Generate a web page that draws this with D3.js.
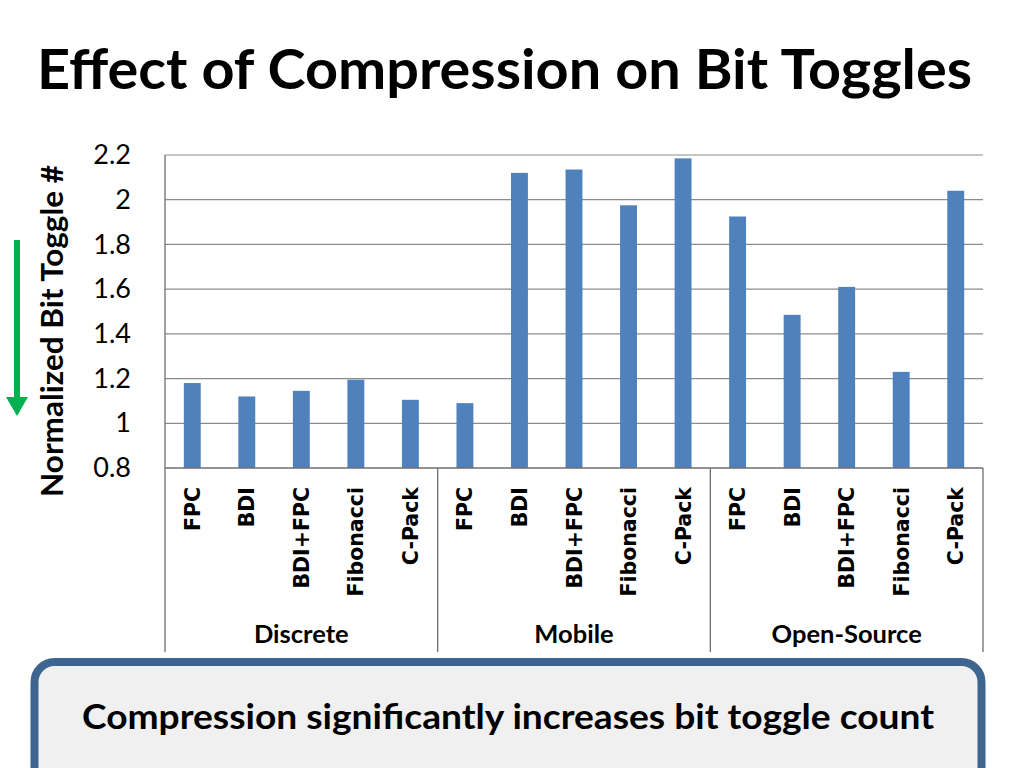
<!DOCTYPE html>
<html>
<head>
<meta charset="utf-8">
<script src="https://cdn.jsdelivr.net/npm/d3@7"></script>
<style>
  body { margin: 0; background: #fff; }
  text { font-family: Lato, "Open Sans", sans-serif; }
</style>
</head>
<body>
<svg width="1024" height="768"></svg>
<script>
// data
var groups = ["Discrete", "Mobile", "Open-Source"];
var schemes = ["FPC", "BDI", "BDI+FPC", "Fibonacci", "C-Pack"];
var discreteVals = [1.18, 1.12, 1.145, 1.195, 1.105];
var mobileVals = [1.09, 2.12, 2.135, 1.975, 2.185];
var openVals = [1.925, 1.485, 1.61, 1.23, 2.04];
var yTicks = [0.8, 1, 1.2, 1.4, 1.6, 1.8, 2, 2.2];

var allVals = [discreteVals, mobileVals, openVals];
var data = [];
groups.forEach(function(g, gi) {
  schemes.forEach(function(s, si) {
    data.push({ group: g, scheme: s, key: g + "|" + s, value: allVals[gi][si] });
  });
});

var plotLeft = 165, plotRight = 983, plotTop = 155, plotBottom = 468, frameBottom = 652;

var svg = d3.select("svg");

svg.append("text")
  .attr("x", 37).attr("y", 89)
  .attr("font-size", 56).attr("font-weight", "bold")
  .attr("textLength", 935).attr("lengthAdjust", "spacingAndGlyphs")
  .text("Effect of Compression on Bit Toggles");

var x = d3.scaleBand()
  .domain(data.map(function(d) { return d.key; }))
  .range([plotLeft, plotRight])
  .paddingInner(0.69).paddingOuter(0.345);

var xGroup = d3.scaleBand()
  .domain(groups)
  .range([plotLeft, plotRight]);

var y = d3.scaleLinear()
  .domain([0.8, 2.2])
  .range([plotBottom, plotTop]);

// grid
svg.append("g")
  .selectAll("line")
  .data(yTicks.slice(1))
  .enter()
  .append("line")
  .attr("x1", plotLeft).attr("x2", plotRight)
  .attr("y1", function(d) { return y(d); })
  .attr("y2", function(d) { return y(d); })
  .attr("stroke", "#8c8c8c").attr("stroke-width", 1.2);

// y tick labels
var yAxis = svg.append("g")
  .attr("transform", "translate(" + plotLeft + ",0)")
  .call(d3.axisLeft(y).tickValues(yTicks).tickSize(0).tickPadding(34)
    .tickFormat(function(d) { return d3.format("")(d); }));
yAxis.select(".domain").remove();
yAxis.selectAll("text")
  .attr("font-size", 27).attr("fill", "#000")
  .style("font-family", "Lato, sans-serif");

// bars
svg.append("g")
  .selectAll("rect")
  .data(data)
  .enter()
  .append("rect")
  .attr("x", function(d) { return x(d.key); })
  .attr("width", x.bandwidth())
  .attr("y", function(d) { return y(d.value); })
  .attr("height", function(d) { return y(0.8) - y(d.value); })
  .attr("fill", "#4f81bd");

// axis frame
var frame = svg.append("g").attr("stroke", "#6e6e6e").attr("stroke-width", 1.3);
frame.append("line")
  .attr("x1", plotLeft).attr("x2", plotRight)
  .attr("y1", plotBottom).attr("y2", plotBottom);
frame.append("line")
  .attr("x1", plotLeft).attr("x2", plotLeft)
  .attr("y1", plotTop).attr("y2", frameBottom);
frame.selectAll(".div")
  .data(groups)
  .enter()
  .append("line")
  .attr("x1", function(d) { return xGroup(d) + xGroup.bandwidth(); })
  .attr("x2", function(d) { return xGroup(d) + xGroup.bandwidth(); })
  .attr("y1", plotBottom).attr("y2", frameBottom);

// category labels
svg.append("g")
  .selectAll("text")
  .data(data)
  .enter()
  .append("text")
  .attr("transform", function(d) {
    return "translate(" + (x(d.key) + x.bandwidth() / 2 + 7.5) + "," + (plotBottom + 19) + ") rotate(-90)";
  })
  .attr("text-anchor", "end")
  .attr("font-size", 20.5).attr("font-weight", "bold")
  .style("font-family", "'DejaVu Sans', Verdana, sans-serif")
  .text(function(d) { return d.scheme; });

// group labels
svg.append("g")
  .selectAll("text")
  .data(groups)
  .enter()
  .append("text")
  .attr("x", function(d) { return xGroup(d) + xGroup.bandwidth() / 2; })
  .attr("y", 643)
  .attr("text-anchor", "middle")
  .attr("font-size", 25.5).attr("font-weight", "bold")
  .text(function(d) { return d; });

// y title
svg.append("text")
  .attr("transform", "translate(63,331) rotate(-90)")
  .attr("text-anchor", "middle")
  .attr("font-size", 31).attr("font-weight", "bold")
  .attr("textLength", 332).attr("lengthAdjust", "spacingAndGlyphs")
  .text("Normalized Bit Toggle #");

// green arrow
svg.append("line")
  .attr("x1", 17).attr("x2", 17)
  .attr("y1", 240).attr("y2", 400)
  .attr("stroke", "#00b050").attr("stroke-width", 6);
svg.append("path")
  .attr("d", "M6,397 L28,397 L17,416 Z")
  .attr("fill", "#00b050");

// message box
svg.append("rect")
  .attr("x", 34.5).attr("y", 662)
  .attr("width", 947).attr("height", 130)
  .attr("rx", 20).attr("ry", 20)
  .attr("fill", "#f0f0f0")
  .attr("stroke", "#3e6490").attr("stroke-width", 8);

svg.append("text")
  .attr("x", 508).attr("y", 729)
  .attr("text-anchor", "middle")
  .attr("font-size", 35).attr("font-weight", "bold")
  .attr("textLength", 852).attr("lengthAdjust", "spacingAndGlyphs")
  .text("Compression significantly increases bit toggle count");
</script>
</body>
</html>
